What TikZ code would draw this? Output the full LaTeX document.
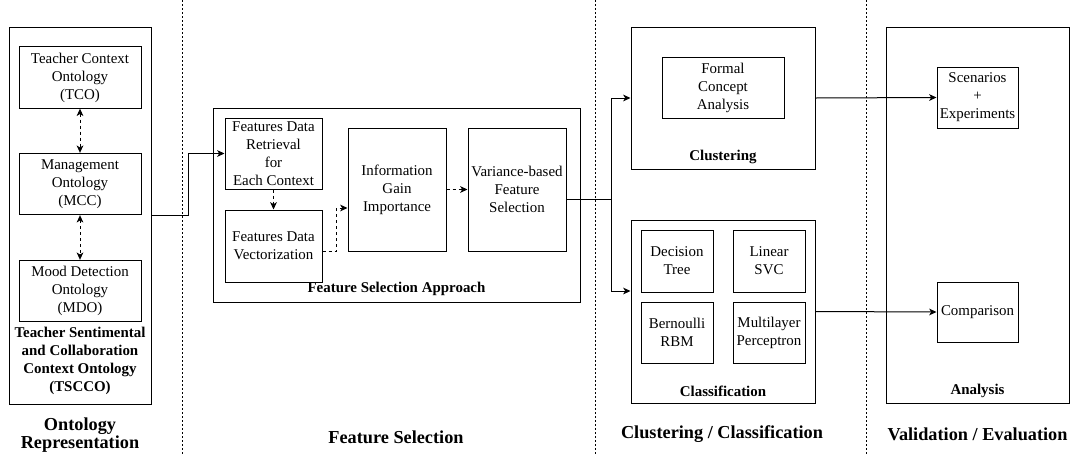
\documentclass[tikz,border=0pt]{standalone}
\usepackage{fontspec}
\setmainfont{Liberation Serif}
\usetikzlibrary{arrows.meta,calc}

\begin{document}
\begin{tikzpicture}[x=0.75pt, y=-0.75pt,
      box/.style={draw, line width=0.75pt, inner sep=0pt, align=center,
        font=\fontsize{11.2}{13.5}\selectfont},
      lab/.style={inner sep=0pt, align=center,
        font=\fontsize{11.2}{13.5}\selectfont\bfseries},
      ttl/.style={inner sep=0pt, align=center,
        font=\fontsize{13.7}{14}\selectfont\bfseries},
      conn/.style={-{Stealth[length=5.5pt, width=5pt, inset=1.5pt]}, line width=0.75pt},
      dconn/.style={conn, dash pattern=on 2.25pt off 2.25pt},
      dboth/.style={{Stealth[length=5.5pt, width=5pt, inset=1.5pt]}-{Stealth[length=5.5pt, width=5pt, inset=1.5pt]},
        line width=0.75pt, dash pattern=on 2.25pt off 2.25pt},
      sep/.style={line width=0.75pt, dash pattern=on 1.5pt off 1.5pt}
    ]
    \useasboundingbox (0,0) rectangle (1070,454);

    % column separators
    \draw[sep] (182,0) -- (182,454);
    \draw[sep] (595,0) -- (595,454);
    \draw[sep] (866,0) -- (866,454);

    % ontology representation
    \node[box, minimum width=106.5pt, minimum height=282.75pt] (tscco) at (80,215.5) {};
    \node[box, minimum width=91.5pt, minimum height=46pt] (tco) at (80,77.5)
      {Teacher Context\\Ontology\\(TCO)};
    \node[box, minimum width=91.5pt, minimum height=46pt] (mcc) at (80,184)
      {Management\\Ontology\\(MCC)};
    \node[box, minimum width=91.5pt, minimum height=46pt] (mdo) at (80,291)
      {Mood Detection\\Ontology\\(MDO)};
    \node[lab] (tsccolab) at (80,360.5)
      {Teacher Sentimental\\and Collaboration\\Context Ontology\\(TSCCO)};
    \draw[dboth] (tco.south) -- (mcc.north);
    \draw[dboth] (mcc.south) -- (mdo.north);

    % feature selection approach
    \node[box, minimum width=275.25pt, minimum height=145.5pt] (fsa) at (396.5,205) {};
    \node[box, minimum width=72.75pt, minimum height=53.25pt] (retr) at (273.5,153.5)
      {Features Data\\Retrieval\\for\\Each Context};
    \node[box, minimum width=72.75pt, minimum height=54pt] (vect) at (273.5,246)
      {Features Data\\Vectorization};
    \node[box, minimum width=73.5pt, minimum height=92.25pt] (igain) at (397,189.5)
      {Information\\Gain\\Importance};
    \node[box, minimum width=73.5pt, minimum height=92.25pt] (varsel) at (517,189.5)
      {Variance-based\\Feature\\Selection};
    \node[lab] (fsalab) at (396.5,289) {Feature Selection Approach};
    \draw[conn] (tscco.east) -- ++(37,0) |- (retr.west);
    \draw[dconn] (retr.south) -- (vect.north);
    \draw[dconn] ($(vect.east)+(0,5)$) -- ++(14,0) |- ($(igain.west)+(0,18.5)$);
    \draw[dconn] (igain.east) -- (varsel.west);

    % clustering / classification
    \node[box, minimum width=138pt, minimum height=106.5pt] (clus) at (723,98) {};
    \node[box, minimum width=91.5pt, minimum height=45.75pt] (fca) at (723,87.5)
      {Formal\\Concept\\Analysis};
    \node[lab] (cluslab) at (723,157) {Clustering};
    \node[box, minimum width=138pt, minimum height=137.25pt] (cls) at (723,311.5) {};
    \node[box, minimum width=54pt, minimum height=46.5pt] (dt) at (677,261)
      {Decision\\Tree};
    \node[box, minimum width=54pt, minimum height=46.5pt] (svc) at (769,261)
      {Linear\\SVC};
    \node[box, minimum width=54pt, minimum height=45.75pt] (rbm) at (677,332.5)
      {Bernoulli\\RBM};
    \node[box, minimum width=54pt, minimum height=45.75pt] (mlp) at (769,332.5)
      {Multilayer\\Perceptron};
    \node[lab] (clslab) at (723,391) {Classification};
    \coordinate (split) at (611,199);
    \draw[line width=0.75pt] (split -| varsel.east) -- (split);
    \draw[conn] (split) |- (clus.west);
    \draw[conn] (split) |- ($(cls.west)+(0,-20.5)$);

    % validation / evaluation
    \node[box, minimum width=137.25pt, minimum height=282pt] (ana) at (977.5,215) {};
    \node[box, minimum width=60.75pt, minimum height=45.75pt] (scen) at (977.5,97.5)
      {Scenarios\\+\\Experiments};
    \node[box, minimum width=60.75pt, minimum height=45pt] (comp) at (977.5,312)
      {Comparison};
    \node[lab] (analab) at (977.5,391) {Analysis};
    \draw[conn] (clus.east) -- (scen.west);
    \draw[conn] (cls.east) -- (comp.west);

    % column titles
    \node[ttl] (t1) at (80,435) {Ontology\\Representation};
    \node[ttl] (t2) at (396,437) {Feature Selection};
    \node[ttl] (t3) at (722,434) {Clustering / Classification};
    \node[ttl] (t4) at (977.5,434) {Validation / Evaluation};
  \end{tikzpicture}
\end{document}
